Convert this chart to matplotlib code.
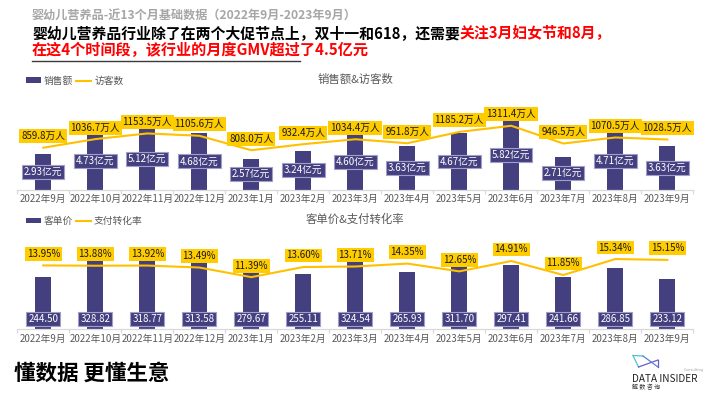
import matplotlib
matplotlib.use("Agg")
import matplotlib.pyplot as plt
from matplotlib.lines import Line2D
import numpy as np

plt.rcParams['font.family'] = ['Noto Sans CJK SC', 'DejaVu Sans']

# ---------------- data ----------------
months = ['2022年9月', '2022年10月', '2022年11月', '2022年12月', '2023年1月', '2023年2月',
          '2023年3月', '2023年4月', '2023年5月', '2023年6月', '2023年7月', '2023年8月', '2023年9月']
sales = [2.93, 4.73, 5.12, 4.68, 2.57, 3.24, 4.60, 3.63, 4.67, 5.82, 2.71, 4.71, 3.63]          # 亿元
visitors = [859.8, 1036.7, 1153.5, 1105.6, 808.0, 932.4, 1034.4, 951.8, 1185.2, 1311.4,
            946.5, 1070.5, 1028.5]                                                            # 万人
price = [244.50, 328.82, 318.77, 313.58, 279.67, 255.11, 324.54, 265.93, 311.70, 297.41,
         241.66, 286.85, 233.12]
conv = [13.95, 13.88, 13.92, 13.49, 11.39, 13.60, 13.71, 14.35, 12.65, 14.91, 11.85, 15.34, 15.15]

header = '婴幼儿营养品-近13个月基础数据（2022年9月-2023年9月）'
sub_black = '婴幼儿营养品行业除了在两个大促节点上，双十一和618，还需要'
sub_red1 = '关注3月妇女节和8月，'
sub_red2 = '在这4个时间段，该行业的月度GMV超过了4.5亿元'
footer = '懂数据 更懂生意'

# ---------------- style ----------------
BAR = '#443f7f'
BAR_EDGE = '#a19ec9'
GOLD = '#ffc000'
BOX = '#ffcc00'
GREY = '#595959'
AXIS = '#d9d9d9'
FS = 7.0

W, H = 710, 399
fig = plt.figure(figsize=(W / 100, H / 100), dpi=100)
fig.patch.set_facecolor('white')


def rect(left, top, right, bottom):
    return [left / W, 1 - bottom / H, (right - left) / W, (bottom - top) / H]


x = np.arange(len(months))


def style_axes(ax):
    for s in ['top', 'left', 'right']:
        ax.spines[s].set_visible(False)
    ax.spines['bottom'].set_color(AXIS)
    ax.spines['bottom'].set_linewidth(0.9)
    ax.set_xlim(-0.5, len(months) - 0.5)
    ax.set_xticks(x)
    ax.set_xticklabels(months, fontsize=FS, color=GREY)
    ax.tick_params(axis='x', which='major', length=0, pad=3.5)
    ax.set_xticks(np.arange(-0.5, len(months), 1.0), minor=True)
    ax.tick_params(axis='x', which='minor', length=3, color=AXIS, width=0.9)
    ax.set_yticks([])
    ax.patch.set_visible(False)


def style_twin(ax2):
    for s in ax2.spines.values():
        s.set_visible(False)
    ax2.set_yticks([])


# ---------------- top chart ----------------
ax1 = fig.add_axes(rect(17.3, 95, 693.3, 189.5))
style_axes(ax1)
ax1.set_ylim(0, 94.5 / 12.0)
b1 = ax1.bar(x, sales, width=0.31, color=BAR, zorder=2)
for i, v in enumerate(sales):
    ax1.text(i, v / 2, f'{v:.2f}亿元', ha='center', va='center', fontsize=FS, color='white', zorder=5,
             bbox=dict(boxstyle='square,pad=0.2', fc=BAR, ec=BAR_EDGE, lw=0.8))

ax1b = ax1.twinx()
style_twin(ax1b)
ax1b.set_ylim(0, 94.5 / 0.0486)
l1, = ax1b.plot(x, visitors, color=GOLD, lw=1.5, zorder=3)
for i, v in enumerate(visitors):
    ax1b.annotate(f'{v:.1f}万人', xy=(i, v), xytext=(0, 8.3), textcoords='offset points',
                  ha='center', va='center', fontsize=FS, color='#1a1a1a', zorder=6,
                  bbox=dict(boxstyle='square,pad=0.2', fc=BOX, ec='none'))

fig.legend(handles=[b1, l1], labels=['销售额', '访客数'], loc='center left',
           bbox_to_anchor=(26 / W, 1 - 80.7 / H), ncol=2, frameon=False, fontsize=FS,
           handlelength=1.55, handleheight=0.5, handletextpad=0.3, columnspacing=0.3,
           borderpad=0, borderaxespad=0, labelcolor=GREY)
fig.text(355 / W, 1 - 79 / H, '销售额&访客数', ha='center', va='center', fontsize=8.2, color=GREY)

# ---------------- bottom chart ----------------
ax2 = fig.add_axes(rect(17.3, 235, 693.3, 329.3))
style_axes(ax2)
ax2.set_ylim(0, 94.3 / 0.215)
b2 = ax2.bar(x, price, width=0.31, color=BAR, zorder=2)
for i, v in enumerate(price):
    ax2.text(i, 0.107, f'{v:.2f}', ha='center', va='center', fontsize=FS, color='white', zorder=5,
             transform=ax2.get_xaxis_transform(),
             bbox=dict(boxstyle='square,pad=0.2', fc=BAR, ec=BAR_EDGE, lw=0.8))

ax2b = ax2.twinx()
style_twin(ax2b)
ax2b.set_ylim(0, 94.3 / 4.58)
l2, = ax2b.plot(x, conv, color=GOLD, lw=1.5, zorder=3)
for i, v in enumerate(conv):
    ax2b.annotate(f'{v:.2f}%', xy=(i, v), xytext=(0, 8.3), textcoords='offset points',
                  ha='center', va='center', fontsize=FS, color='#1a1a1a', zorder=6,
                  bbox=dict(boxstyle='square,pad=0.2', fc=BOX, ec='none'))

fig.legend(handles=[b2, l2], labels=['客单价', '支付转化率'], loc='center left',
           bbox_to_anchor=(26 / W, 1 - 221 / H), ncol=2, frameon=False, fontsize=FS,
           handlelength=1.55, handleheight=0.5, handletextpad=0.3, columnspacing=0.3,
           borderpad=0, borderaxespad=0, labelcolor=GREY)
fig.text(355 / W, 1 - 219 / H, '客单价&支付转化率', ha='center', va='center', fontsize=8.2, color=GREY)

# ---------------- header / footer overlay ----------------
ov = fig.add_axes([0, 0, 1, 1])
ov.set_xlim(0, W)
ov.set_ylim(H, 0)
ov.axis('off')
ov.patch.set_visible(False)

ov.text(32, 15.7, header, ha='left', va='center', fontsize=8.7, weight='bold', color='#a6a6a6')
t2 = ov.text(32, 33, sub_black, ha='left', va='center', fontsize=10.7, weight='bold', color='black')
ov.annotate(sub_red1, xy=(1, 0), xycoords=t2, ha='left', va='bottom', fontsize=10.7,
            weight='bold', color='#ff0000')
ov.text(32, 49.5, sub_red2, ha='left', va='center', fontsize=10.9, weight='bold', color='#ff0000')
ov.add_line(Line2D([32, 300], [61, 61], color='#3a3a3a', lw=1))

ov.text(14, 373, footer, ha='left', va='center', fontsize=15.5, weight='bold', color='black')

# logo
ov.add_line(Line2D([633, 643], [355.5, 356], color='#4fc3c8', lw=0.9))
ov.add_line(Line2D([633, 638.5], [355.5, 367], color='#4fc3c8', lw=0.9))
ov.add_line(Line2D([638.5, 658], [367, 360], color='#6a5acd', lw=0.9))
ov.add_line(Line2D([643, 658], [356, 367], color='#5b7fd6', lw=0.9))
ov.add_line(Line2D([658, 658], [360, 367], color='#6a5acd', lw=0.9))
ov.text(684, 369.5, 'Consulting', ha='left', va='center', fontsize=2.8, color='#a0a0a0')
ov.text(632, 379.5, 'DATA INSIDER', ha='left', va='center', fontsize=7.2, color='#222222')
ov.text(632, 387, '解 数 咨 询', ha='left', va='center', fontsize=4.3, color='#333333')

fig.savefig('out.png', dpi=100)
